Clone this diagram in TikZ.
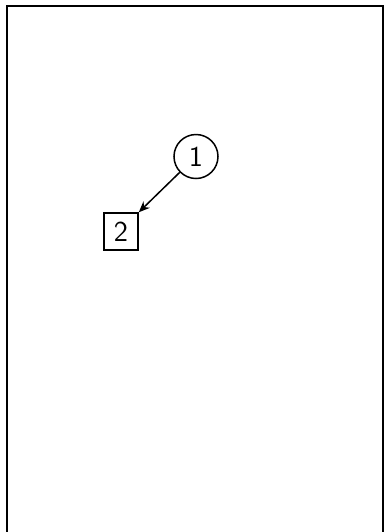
\documentclass[tikz,border=0pt]{standalone}
\usepackage{tikz}
\usetikzlibrary{arrows.meta, positioning}
\tikzset{
  % Round numbered node
  CN/.style={circle,draw=black,minimum size=22pt,inner sep=0pt,
             font=\Large\sffamily,line width=0.75pt},
  % Square numbered node
  SN/.style={rectangle,draw=black,minimum width=17pt,minimum height=18.5pt,
             inner sep=0pt,font=\Large\sffamily,line width=0.75pt},
  % Arrow
  Arr/.style={-{Stealth[length=5.5pt,width=4.5pt]},line width=0.75pt,color=black},
}
\begin{document}
\begin{tikzpicture}[x=0.5pt,y=-0.5pt]
      \useasboundingbox (0,0) rectangle (384,532);
      \clip (0,0) rectangle (384,532);
      % frame
      \draw[line width=1pt] (7.5,5.5) rectangle (383.5,545);
      \node[CN] (one) at (196,156.5) {1};
      \node[SN] (two) at (121,231.5) {2};
      \draw[Arr] (one) -- (two.north east);
    \end{tikzpicture}
\end{document}
